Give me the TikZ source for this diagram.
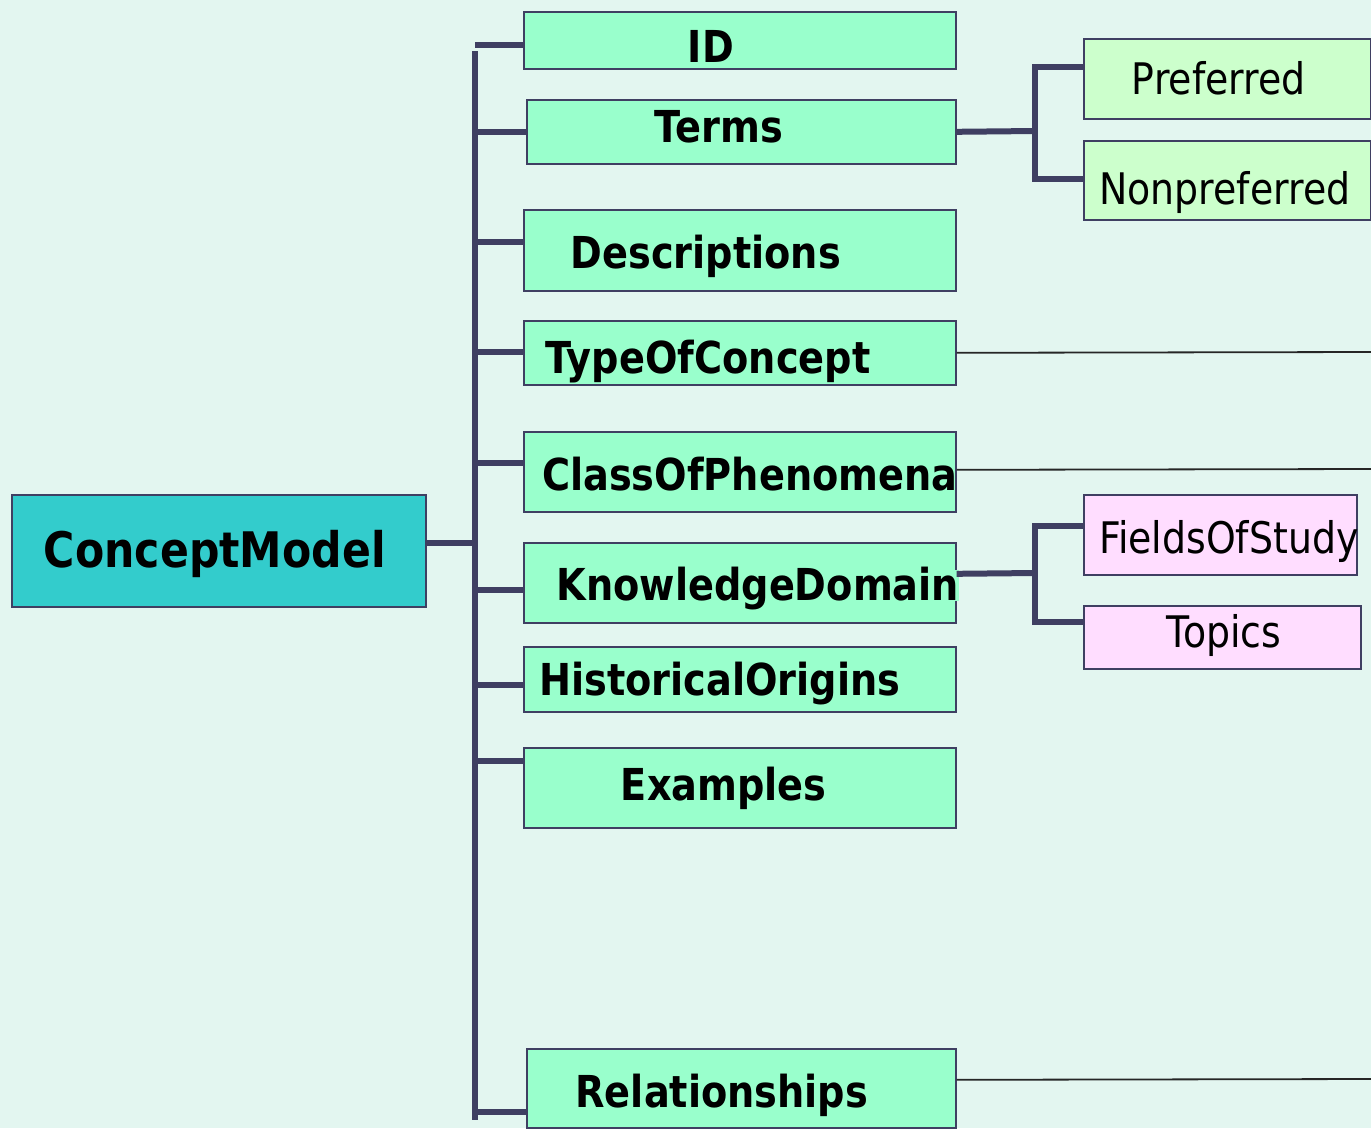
\documentclass[tikz,border=0pt]{standalone}
\usepackage{fontspec}
\setmainfont{DejaVu Sans}[FakeStretch=0.87]

\definecolor{bgmint}{HTML}{E3F6F0}
\definecolor{rootcyan}{HTML}{33CCCC}
\definecolor{leafgreen}{HTML}{99FFCC}
\definecolor{subgreen}{HTML}{CCFFCC}
\definecolor{subpink}{HTML}{FFDDFF}
\definecolor{slate}{HTML}{3F3F62}

\begin{document}
\begin{tikzpicture}[x=1pt, y=-1pt]

	\tikzstyle{cbox}=[draw=slate, line width=1.6pt, anchor=north west, inner sep=0pt]
	\tikzstyle{rootbox}=[cbox, fill=rootcyan]
	\tikzstyle{fieldbox}=[cbox, fill=leafgreen]
	\tikzstyle{termbox}=[cbox, fill=subgreen]
	\tikzstyle{pinkbox}=[cbox, fill=subpink]
	\tikzstyle{boldtext}=[inner sep=0pt, text height=31pt, text depth=0pt, font=\fontsize{44}{50}\selectfont\bfseries]
	\tikzstyle{plaintext}=[inner sep=0pt, text height=30pt, text depth=0pt, font=\fontsize{43.5}{48}\selectfont]
	\tikzstyle{bus}=[draw=slate, line width=6pt]
	\tikzstyle{thinlink}=[draw=black!85, line width=1.8pt]

	\useasboundingbox (0,0) rectangle (1371,1128);
	\fill[bgmint] (0,0) rectangle (1371,1128);

	\node[rootbox, minimum width=414pt, minimum height=112pt, label={[boldtext, text height=35pt, font=\fontsize{49}{56}\selectfont\bfseries, xshift=-4pt, yshift=0.5pt]center:ConceptModel}] (cm) at (11,494) {};

	\node[fieldbox, minimum width=432pt, minimum height=57pt, label={[boldtext, xshift=-29pt, yshift=-7pt]center:ID}] (id) at (523,11) {};
	\node[fieldbox, minimum width=429pt, minimum height=64pt, label={[boldtext, xshift=-22.5pt, yshift=4.5pt]center:Terms}] (terms) at (526,99) {};
	\node[fieldbox, minimum width=432pt, minimum height=81pt, label={[boldtext, xshift=-34pt, yshift=-3pt]center:Descriptions}] (desc) at (523,209) {};
	\node[fieldbox, minimum width=432pt, minimum height=64pt, label={[boldtext, xshift=-32pt, yshift=-5.5pt]center:TypeOfConcept}] (toc) at (523,320) {};
	\node[fieldbox, minimum width=432pt, minimum height=80pt, label={[boldtext, xshift=10pt, yshift=-3.5pt]center:ClassOfPhenomena}] (cop) at (523,431) {};
	\node[fieldbox, minimum width=432pt, minimum height=80pt, label={[boldtext, fill=leafgreen, xshift=18pt, yshift=-2.5pt]center:KnowledgeDomain}] (kd) at (523,542) {};
	\node[fieldbox, minimum width=432pt, minimum height=65pt, label={[boldtext, xshift=-20pt, yshift=-1pt]center:HistoricalOrigins}] (ho) at (523,646) {};
	\node[fieldbox, minimum width=432pt, minimum height=80pt, label={[boldtext, xshift=-16pt, yshift=2.5pt]center:Examples}] (ex) at (523,747) {};
	\node[fieldbox, minimum width=429pt, minimum height=79pt, label={[boldtext, xshift=-19.5pt, yshift=-4pt]center:Relationships}] (rel) at (526,1048) {};

	\node[termbox, minimum width=287pt, minimum height=80pt, label={[plaintext, xshift=-8.5pt, yshift=-1pt]center:Preferred}] (pref) at (1083,38) {};
	\node[termbox, minimum width=287pt, minimum height=79pt, label={[plaintext, xshift=-2.5pt, yshift=-9.5pt]center:Nonpreferred}] (npref) at (1083,140) {};
	\node[pinkbox, minimum width=273pt, minimum height=80pt, label={[plaintext, xshift=8.5pt, yshift=-4pt]center:FieldsOfStudy}] (fos) at (1083,494) {};
	\node[pinkbox, minimum width=277pt, minimum height=63pt, label={[plaintext, xshift=1.5pt, yshift=4.5pt]center:Topics}] (topics) at (1083,605) {};

	% main bus
	\coordinate (bustop) at (475,51);
	\coordinate (busbot) at (475,1120);
	\draw[bus] (bustop) -- (busbot);
	\path ([yshift=8pt]cm.east) coordinate (cm-out);
	\draw[bus] (cm-out) -- (cm-out -| bustop);
	\foreach \n/\s in {id/-4.5, terms/0, desc/8.5, toc/1, cop/9, kd/-7, ho/-5.5, ex/27, rel/-23.5}
	{
		\path ([yshift=\s pt]\n.west) coordinate (\n-in);
		\draw[bus] (\n-in) -- (\n-in -| bustop);
	}

	% terms
	\coordinate (tsplit) at (1035,131);
	\draw[bus] (terms.east) -- (tsplit);
	\path ([yshift=12pt]pref.west) coordinate (pref-in);
	\path ([yshift=1.5pt]npref.west) coordinate (npref-in);
	\draw[bus] (pref-in) -| (tsplit) |- (npref-in);

	% knowledge domain
	\coordinate (ksplit) at (1035,573);
	\path ([yshift=9pt]kd.east) coordinate (kd-out);
	\draw[bus] (kd-out) -- (ksplit);
	\path ([yshift=9pt]fos.west) coordinate (fos-in);
	\path ([yshift=15.5pt]topics.west) coordinate (topics-in);
	\draw[bus] (fos-in) -| (ksplit) |- (topics-in);

	% outgoing
	\coordinate (tocend) at (1371,352);
	\draw[thinlink] (toc.east) -- (tocend);
	\path ([yshift=2pt]cop.east) coordinate (cop-out);
	\coordinate (copend) at (1371,469);
	\draw[thinlink] (cop-out) -- (copend);
	\path ([yshift=8.5pt]rel.east) coordinate (rel-out);
	\coordinate (relend) at (1371,1079);
	\draw[thinlink] (rel-out) -- (relend);

\end{tikzpicture}
\end{document}
